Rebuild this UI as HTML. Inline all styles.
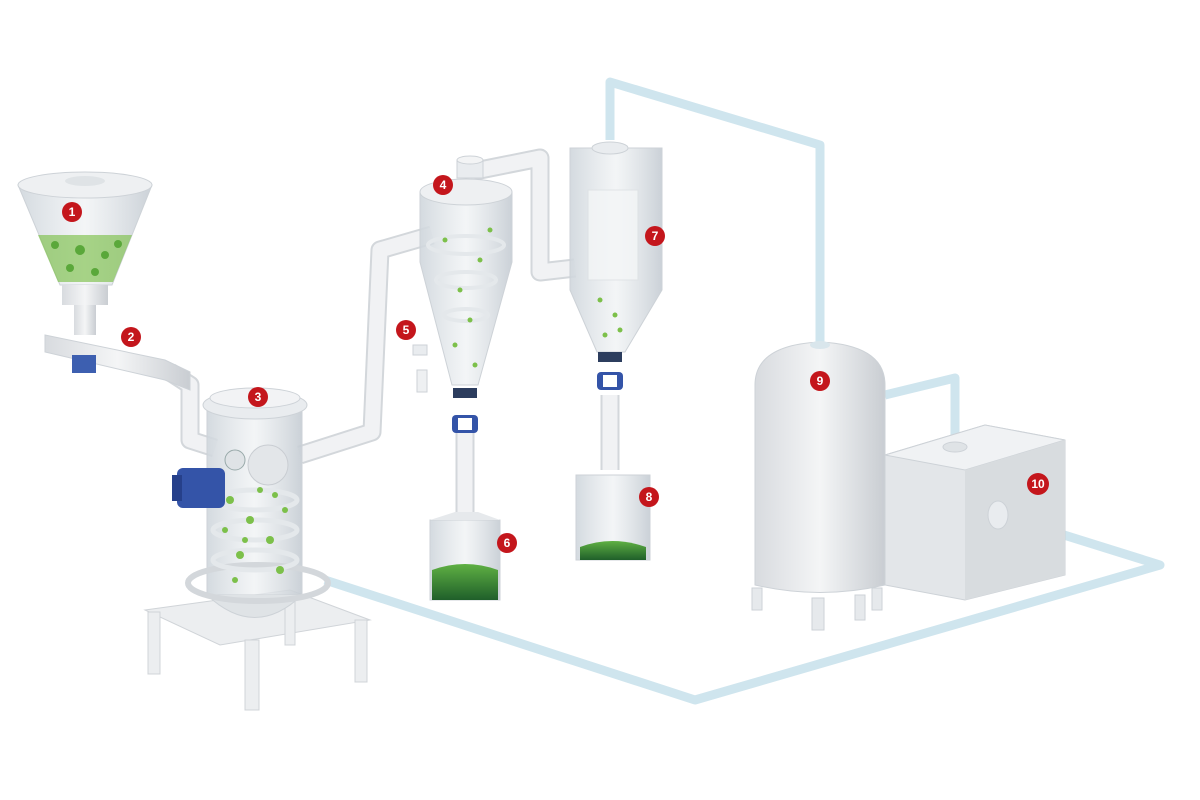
<!DOCTYPE html>
<html><head><meta charset="utf-8"><style>
html,body{margin:0;padding:0;background:#fff;}
svg{display:block;}
.n{font-family:"Liberation Sans",sans-serif;font-size:12px;font-weight:bold;fill:#fff;text-anchor:middle;}
</style></head><body>
<svg width="1200" height="800" viewBox="0 0 1200 800" xmlns="http://www.w3.org/2000/svg">
<defs>
<linearGradient id="g" x1="0" x2="1"><stop offset="0" stop-color="#d8dbdf"/><stop offset=".5" stop-color="#f4f5f6"/><stop offset="1" stop-color="#c9cdd2"/></linearGradient>
<linearGradient id="gl" x1="0" x2="1"><stop offset="0" stop-color="#cfd6dc" stop-opacity=".9"/><stop offset=".5" stop-color="#eef1f3" stop-opacity=".7"/><stop offset="1" stop-color="#c5ccd3" stop-opacity=".9"/></linearGradient>
<linearGradient id="gr" x1="0" y1="0" x2="0" y2="1"><stop offset="0" stop-color="#5fb043"/><stop offset="1" stop-color="#1f5f2a"/></linearGradient>
</defs>
<g fill="none" stroke="#cfe5ee" stroke-width="9" stroke-linejoin="round">
<polyline points="610,140 610,82 820,145 820,345"/>
<polyline points="885,395 955,378 955,445"/>
<polyline points="1000,515 1160,565 695,700 325,580"/>
</g>
<g fill="none" stroke="#d3d7db" stroke-width="19" stroke-linejoin="round">
<polyline points="170,372 190,385 190,440 215,448"/>
<polyline points="300,455 372,432 380,250 432,235"/>
<polyline points="470,172 540,158 540,272 575,268"/>
<line x1="465" y1="420" x2="465" y2="515"/>
<line x1="610" y1="395" x2="610" y2="470"/>
</g>
<g fill="none" stroke="#f1f2f4" stroke-width="15" stroke-linejoin="round">
<polyline points="170,372 190,385 190,440 215,448"/>
<polyline points="300,455 372,432 380,250 432,235"/>
<polyline points="470,172 540,158 540,272 575,268"/>
<line x1="465" y1="420" x2="465" y2="515"/>
<line x1="610" y1="395" x2="610" y2="470"/>
</g>
<path d="M18,185 L152,185 L112,285 L60,285 Z" fill="url(#gl)" stroke="#cdd2d7"/>
<ellipse cx="85" cy="185" rx="67" ry="13" fill="#eef0f2" stroke="#cdd2d7"/>
<ellipse cx="85" cy="181" rx="20" ry="5" fill="#dfe3e6"/>
<path d="M38,235 L132,235 L113,282 L58,282 Z" fill="#7cc04a" opacity=".65"/>
<g fill="#5aa83a"><circle cx="55" cy="245" r="4"/><circle cx="80" cy="250" r="5"/><circle cx="105" cy="255" r="4"/><circle cx="70" cy="268" r="4"/><circle cx="95" cy="272" r="4"/><circle cx="118" cy="244" r="4"/></g>
<rect x="62" y="285" width="46" height="20" fill="url(#g)"/>
<rect x="74" y="305" width="22" height="30" fill="url(#g)"/>
<path d="M45,335 L165,360 L190,372 L190,390 L165,380 L45,352 Z" fill="url(#g)" stroke="#cdd2d7"/>
<rect x="72" y="355" width="24" height="18" fill="#3d5fb0"/>
<g fill="#eceef0" stroke="#d0d4d8">
<path d="M145,610 L290,590 L370,620 L220,645 Z"/>
<rect x="148" y="612" width="12" height="62"/>
<rect x="245" y="640" width="14" height="70"/>
<rect x="355" y="620" width="12" height="62"/>
<rect x="285" y="595" width="10" height="50"/>
</g>
<rect x="207" y="405" width="95" height="190" fill="url(#gl)" stroke="#cdd2d7"/>
<path d="M207,595 Q255,640 302,595" fill="#dfe3e6" stroke="#cdd2d7"/>
<ellipse cx="255" cy="405" rx="52" ry="14" fill="#e9ecef" stroke="#cdd2d7"/>
<ellipse cx="255" cy="398" rx="45" ry="10" fill="#f2f3f5" stroke="#cdd2d7"/>
<ellipse cx="258" cy="583" rx="70" ry="18" fill="none" stroke="#d3d7db" stroke-width="6"/>
<g fill="none" stroke="#e4e8eb" stroke-width="5"><ellipse cx="255" cy="500" rx="42" ry="10"/><ellipse cx="255" cy="530" rx="42" ry="10"/><ellipse cx="255" cy="560" rx="42" ry="10"/></g>
<circle cx="268" cy="465" r="20" fill="#e3e6e9" stroke="#c9cdd2"/>
<circle cx="235" cy="460" r="10" fill="#dfe3e6" stroke="#9aa"/>
<rect x="177" y="468" width="48" height="40" rx="6" fill="#3454a8"/>
<rect x="172" y="475" width="10" height="26" fill="#26408a"/>
<g fill="#7cc04a">
<circle cx="230" cy="500" r="4"/><circle cx="250" cy="520" r="4"/><circle cx="270" cy="540" r="4"/><circle cx="240" cy="555" r="4"/><circle cx="285" cy="510" r="3"/><circle cx="225" cy="530" r="3"/><circle cx="260" cy="490" r="3"/><circle cx="280" cy="570" r="4"/><circle cx="235" cy="580" r="3"/><circle cx="245" cy="540" r="3"/><circle cx="275" cy="495" r="3"/>
</g>
<rect x="457" y="160" width="26" height="18" fill="#e9ecef" stroke="#cdd2d7"/>
<ellipse cx="470" cy="160" rx="13" ry="4" fill="#f3f4f5" stroke="#cdd2d7"/>
<path d="M420,192 L512,192 L512,262 L478,385 L452,385 L420,262 Z" fill="url(#gl)" stroke="#cdd2d7"/>
<ellipse cx="466" cy="192" rx="46" ry="13" fill="#eef0f2" stroke="#cdd2d7"/>
<g fill="none" stroke="#e4e8eb" stroke-width="4"><ellipse cx="466" cy="245" rx="38" ry="9"/><ellipse cx="466" cy="280" rx="30" ry="8"/><ellipse cx="466" cy="315" rx="22" ry="6"/></g>
<g fill="#7cc04a"><circle cx="445" cy="240" r="2.5"/><circle cx="480" cy="260" r="2.5"/><circle cx="460" cy="290" r="2.5"/><circle cx="470" cy="320" r="2.5"/><circle cx="455" cy="345" r="2.5"/><circle cx="475" cy="365" r="2.5"/><circle cx="490" cy="230" r="2.5"/></g>
<rect x="453" y="388" width="24" height="10" fill="#2c3d5e"/>
<rect x="452" y="415" width="26" height="18" rx="4" fill="#3454a8"/>
<rect x="458" y="418" width="14" height="12" fill="#fff"/>
<rect x="413" y="345" width="14" height="10" fill="#e9ecef" stroke="#cdd2d7"/>
<rect x="417" y="370" width="10" height="22" fill="#eef0f2" stroke="#cdd2d7"/>
<path d="M430,520 L500,520 L500,600 L430,600 Z" fill="url(#gl)" stroke="#cdd2d7"/>
<path d="M455,512 L478,512 L500,520 L430,520 Z" fill="#e6e9ec"/>
<path d="M432,570 Q465,558 498,570 L498,600 L432,600 Z" fill="url(#gr)"/>
<path d="M570,148 L662,148 L662,290 L625,352 L597,352 L570,290 Z" fill="url(#gl)" stroke="#cdd2d7"/>
<rect x="588" y="190" width="50" height="90" fill="#f4f6f7" opacity=".8" stroke="#dde1e4"/>
<ellipse cx="610" cy="148" rx="18" ry="6" fill="#e9ecef" stroke="#cdd2d7"/>
<g fill="#7cc04a"><circle cx="600" cy="300" r="2.5"/><circle cx="615" cy="315" r="2.5"/><circle cx="605" cy="335" r="2.5"/><circle cx="620" cy="330" r="2.5"/></g>
<rect x="598" y="352" width="24" height="10" fill="#2c3d5e"/>
<rect x="597" y="372" width="26" height="18" rx="4" fill="#3454a8"/>
<rect x="603" y="375" width="14" height="12" fill="#fff"/>
<path d="M576,475 L650,475 L650,560 L576,560 Z" fill="url(#gl)" stroke="#cdd2d7"/>
<path d="M580,547 Q612,535 646,547 L646,560 L580,560 Z" fill="url(#gr)"/>
<path d="M755,385 Q755,345 820,342 Q885,345 885,385 L885,585 Q820,600 755,585 Z" fill="url(#g)" stroke="#cdd2d7"/>
<ellipse cx="820" cy="345" rx="10" ry="4" fill="#d9e6ec"/>
<g fill="#e6e9ec" stroke="#cdd2d7"><rect x="752" y="588" width="10" height="22"/><rect x="812" y="598" width="12" height="32"/><rect x="872" y="588" width="10" height="22"/><rect x="855" y="595" width="10" height="25"/></g>
<path d="M885,455 L985,425 L1065,440 L1065,575 L965,600 L885,585 Z" fill="#e3e6e9" stroke="#cdd2d7"/>
<path d="M885,455 L985,425 L1065,440 L965,470 Z" fill="#f0f2f4" stroke="#cdd2d7"/>
<path d="M965,470 L1065,440 L1065,575 L965,600 Z" fill="#d8dcdf"/>
<ellipse cx="955" cy="447" rx="12" ry="5" fill="#dfe3e6" stroke="#cdd2d7"/>
<ellipse cx="998" cy="515" rx="10" ry="14" fill="#e9ecef" stroke="#cdd2d7"/>
<g>
<circle cx="72" cy="212" r="10" fill="#c4161c"/><text class="n" x="72" y="216">1</text>
<circle cx="131" cy="337" r="10" fill="#c4161c"/><text class="n" x="131" y="341">2</text>
<circle cx="258" cy="397" r="10" fill="#c4161c"/><text class="n" x="258" y="401">3</text>
<circle cx="443" cy="185" r="10" fill="#c4161c"/><text class="n" x="443" y="189">4</text>
<circle cx="406" cy="330" r="10" fill="#c4161c"/><text class="n" x="406" y="334">5</text>
<circle cx="507" cy="543" r="10" fill="#c4161c"/><text class="n" x="507" y="547">6</text>
<circle cx="655" cy="236" r="10" fill="#c4161c"/><text class="n" x="655" y="240">7</text>
<circle cx="649" cy="497" r="10" fill="#c4161c"/><text class="n" x="649" y="501">8</text>
<circle cx="820" cy="381" r="10" fill="#c4161c"/><text class="n" x="820" y="385">9</text>
<circle cx="1038" cy="484" r="11" fill="#c4161c"/><text class="n" x="1038" y="488">10</text>
</g>
</svg>
</body></html>
